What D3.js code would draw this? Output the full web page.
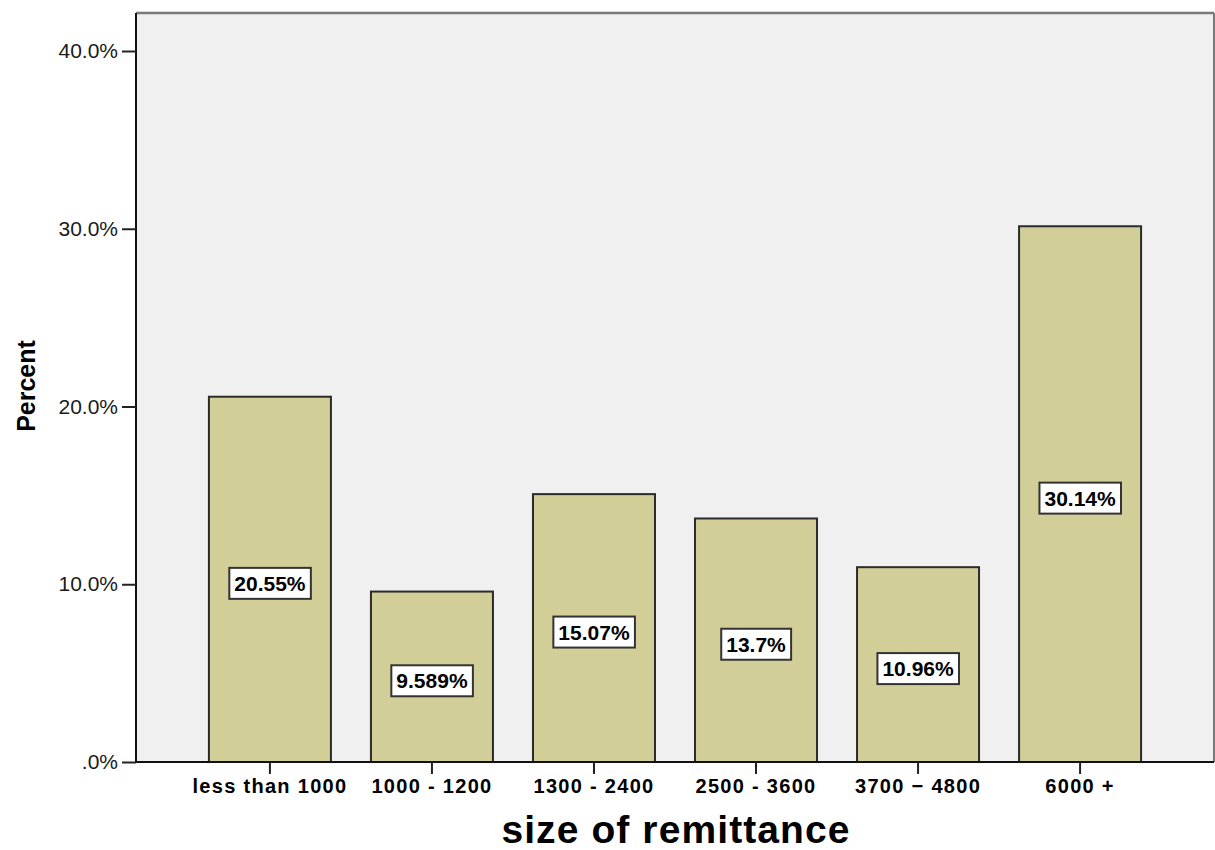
<!DOCTYPE html>
<html>
<head>
<meta charset="utf-8">
<script src="https://cdn.jsdelivr.net/npm/d3@7"></script>
<style>
  body { margin: 0; background: #fff; }
  text { font-family: "Liberation Sans", Arial, sans-serif; }
</style>
</head>
<body>
<svg id="chart" width="1215" height="850"></svg>
<script>
var categories = ["less than 1000", "1000 - 1200", "1300 - 2400", "2500 - 3600", "3700 \u2212 4800", "6000 +"];
var percents = [20.55, 9.589, 15.07, 13.7, 10.96, 30.14];
var valueLabels = ["20.55%", "9.589%", "15.07%", "13.7%", "10.96%", "30.14%"];
var yTicks = [0, 10, 20, 30, 40];
var yTickLabels = [".0%", "10.0%", "20.0%", "30.0%", "40.0%"];

var svg = d3.select("#chart");
var pLeft = 136, pRight = 1214, pTop = 13, pBottom = 762;

var x = d3.scaleBand().domain(categories).range([pLeft, pRight])
    .paddingInner(0.247).paddingOuter(0.45);
var y = d3.scaleLinear().domain([0, 40]).range([pBottom, 51]);

// plot background
svg.append("rect").attr("x", pLeft).attr("y", pTop)
    .attr("width", pRight - pLeft).attr("height", pBottom - pTop)
    .attr("fill", "#f0f0f0");

// frame top / right
svg.append("line").attr("x1", pLeft).attr("x2", pRight).attr("y1", pTop).attr("y2", pTop)
    .attr("stroke", "#7a7a7a").attr("stroke-width", 2.5);
svg.append("line").attr("x1", pRight).attr("x2", pRight).attr("y1", pTop).attr("y2", pBottom)
    .attr("stroke", "#7a7a7a").attr("stroke-width", 2);

// bars
svg.selectAll("rect.bar").data(percents).enter().append("rect")
    .attr("class", "bar")
    .attr("x", function (d, i) { return x(categories[i]); })
    .attr("y", function (d) { return y(d); })
    .attr("width", x.bandwidth())
    .attr("height", function (d) { return pBottom - y(d); })
    .attr("fill", "#d2ce98")
    .attr("stroke", "#2b2b2b").attr("stroke-width", 2);

// axes
var yAxis = svg.append("g").attr("transform", "translate(" + pLeft + ",0)")
    .call(d3.axisLeft(y).tickValues(yTicks).tickSize(14).tickPadding(4)
        .tickFormat(function (d, i) { return yTickLabels[i]; }));
yAxis.select(".domain").attr("stroke", "#111").attr("stroke-width", 2)
    .attr("d", "M0," + pTop + "V" + pBottom);
yAxis.selectAll(".tick line").attr("stroke", "#222").attr("stroke-width", 2);
yAxis.selectAll(".tick text").attr("font-size", 21).attr("fill", "#1a1a1a")
    .attr("font-family", "Liberation Sans, Arial, sans-serif");

var xAxis = svg.append("g").attr("transform", "translate(0," + pBottom + ")")
    .call(d3.axisBottom(x).tickSize(12).tickPadding(5));
xAxis.select(".domain").attr("stroke", "#111").attr("stroke-width", 2)
    .attr("d", "M" + pLeft + ",0H" + pRight);
xAxis.selectAll(".tick line").attr("stroke", "#222").attr("stroke-width", 2);
xAxis.selectAll(".tick text").attr("font-size", 20).attr("font-weight", "bold")
    .attr("fill", "#000").attr("letter-spacing", 1.3)
    .attr("font-family", "Liberation Sans, Arial, sans-serif");

// value labels
var lab = svg.selectAll("g.lab").data(percents).enter().append("g").attr("class", "lab")
    .attr("transform", function (d, i) {
        return "translate(" + (x(categories[i]) + x.bandwidth() / 2) + "," + (y(d / 2) + 4) + ")";
    });
lab.append("text")
    .attr("text-anchor", "middle").attr("dy", "0.36em")
    .attr("font-size", 21).attr("font-weight", "bold").attr("fill", "#000")
    .text(function (d, i) { return valueLabels[i]; });
lab.each(function () {
    var g = d3.select(this);
    var bb = g.select("text").node().getBBox();
    g.insert("rect", "text")
        .attr("x", bb.x - 5).attr("y", -15.5)
        .attr("width", bb.width + 10).attr("height", 31)
        .attr("fill", "#fff").attr("stroke", "#333").attr("stroke-width", 2);
});

// axis titles
svg.append("text").attr("x", 676).attr("y", 843).attr("text-anchor", "middle")
    .attr("font-size", 39).attr("font-weight", "bold").attr("fill", "#000")
    .attr("letter-spacing", 1.1)
    .text("size of remittance");
svg.append("text").attr("transform", "translate(35,386) rotate(-90)")
    .attr("text-anchor", "middle")
    .attr("font-size", 25).attr("font-weight", "bold").attr("fill", "#000")
    .text("Percent");
</script>
</body>
</html>
